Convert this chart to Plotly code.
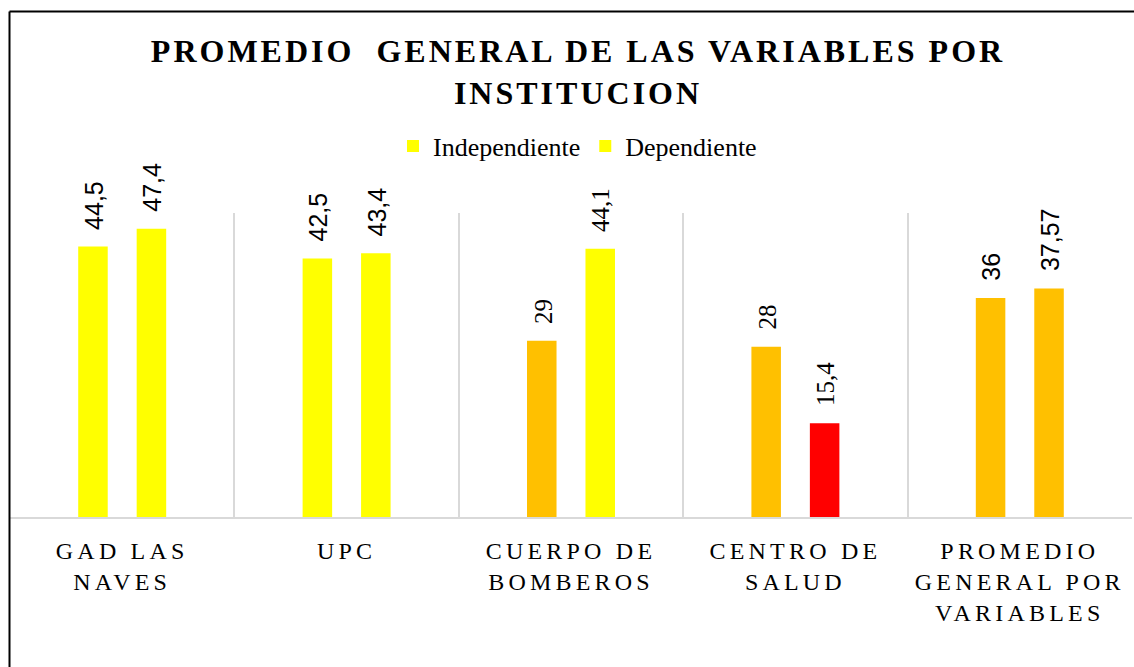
import plotly.graph_objects as go

categories = ["GAD LAS NAVES", "UPC", "CUERPO DE BOMBEROS", "CENTRO DE SALUD",
              "PROMEDIO GENERAL POR VARIABLES"]
tick_labels = ["GAD LAS<br>NAVES", "UPC", "CUERPO DE<br>BOMBEROS", "CENTRO DE<br>SALUD",
               "PROMEDIO<br>GENERAL POR<br>VARIABLES"]
independiente = [44.5, 42.5, 29, 28, 36]
dependiente = [47.4, 43.4, 44.1, 15.4, 37.57]

YELLOW, ORANGE, RED = "#FFFF00", "#FFC000", "#FF0000"
indep_colors = [YELLOW, YELLOW, ORANGE, ORANGE, ORANGE]
dep_colors = [YELLOW, YELLOW, YELLOW, RED, ORANGE]

SANS, SERIF = "Liberation Sans", "Liberation Serif"
indep_label_fonts = [SANS, SANS, SERIF, SERIF, SANS]
dep_label_fonts = [SANS, SANS, SERIF, SERIF, SANS]

W, H = 1134, 667
ML, MR, MT, MB = 10, 2, 213, 150
plot_w = W - ML - MR
plot_h = H - MT - MB
YMAX = 50


def fmt(v):
    return f"{v:g}".replace(".", ",")


fig = go.Figure()
fig.add_trace(go.Bar(name="Independiente", x=categories, y=independiente,
                     marker=dict(color=indep_colors, line=dict(width=0))))
fig.add_trace(go.Bar(name="Dependiente", x=categories, y=dependiente,
                     marker=dict(color=dep_colors, line=dict(width=0))))

cat_w = plot_w / len(categories)
bargap = 0.479
offset = (1 - bargap) * cat_w / 4

annotations = []
for vals, fonts, sign in ((independiente, indep_label_fonts, -1), (dependiente, dep_label_fonts, 1)):
    for c, v, f in zip(categories, vals, fonts):
        annotations.append(dict(x=c, y=v, xref="x", yref="y", text=fmt(v), showarrow=False,
                                textangle=-90, xanchor="center", yanchor="bottom",
                                xshift=sign * offset + 1, yshift=15,
                                font=dict(family=f, size=25, color="#000000")))

# chart-area border (left and top edges visible)
bx = (9.5 - ML) / plot_w
by = (H - MB - 11.5) / plot_h
shapes = [
    dict(type="line", xref="paper", yref="paper", x0=bx, x1=bx, y0=by, y1=-1,
         line=dict(color="#000000", width=2)),
    dict(type="line", xref="paper", yref="paper", x0=bx, x1=1.2, y0=by, y1=by,
         line=dict(color="#000000", width=2)),
]

fig.update_layout(
    width=W, height=H, autosize=False,
    margin=dict(l=ML, r=MR, t=MT, b=MB),
    paper_bgcolor="#FFFFFF", plot_bgcolor="#FFFFFF",
    barmode="group", bargap=bargap, bargroupgap=0.495,
    title=dict(text="PROMEDIO\u00a0 GENERAL DE LAS VARIABLES POR<br>INSTITUCION",
               x=578 / W, xanchor="center", xref="container",
               y=1 - 62 / H, yanchor="top", yref="container",
               font=dict(family=SERIF, size=32, color="#000000", weight="bold")),
    legend=dict(orientation="h", x=(393 - ML) / plot_w, xanchor="left",
                y=1 + (MT - 146) / plot_h, yanchor="middle",
                font=dict(family=SERIF, size=26, color="#000000"),
                bgcolor="rgba(0,0,0,0)"),
    xaxis=dict(type="category", tickson="boundaries", showgrid=True,
               gridcolor="#D9D9D9", gridwidth=2,
               showline=True, linecolor="#D9D9D9", linewidth=2,
               ticks="", tickmode="array", tickvals=categories, ticktext=tick_labels,
               ticklabelstandoff=11,
               tickfont=dict(family=SERIF, size=24, color="#000000"),
               range=[-0.5, len(categories) - 0.5], fixedrange=True),
    yaxis=dict(range=[0, YMAX], visible=False, showgrid=False, zeroline=False,
               fixedrange=True),
    annotations=annotations,
    shapes=shapes,
    showlegend=True,
)

post = ("document.body.style.margin='0';"
        "document.querySelectorAll('.xtick text').forEach(function(t){t.style.letterSpacing='4.2px';});"
        "document.querySelectorAll('.gtitle').forEach(function(t){t.style.letterSpacing='3px';});")

fig.write_html("out.html", post_script=post, config={"displayModeBar": False, "responsive": False})
